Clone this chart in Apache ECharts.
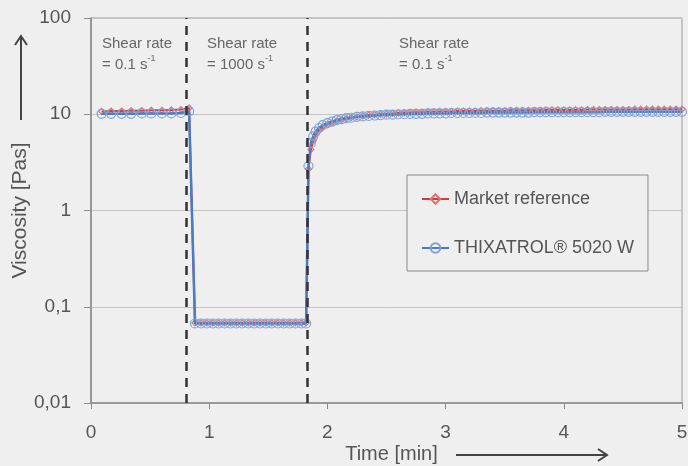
<!DOCTYPE html>
<html>
<head>
<meta charset="utf-8">
<script src="https://cdn.jsdelivr.net/npm/echarts@6.0.0/dist/echarts.min.js"></script>
<style>
  html, body { margin: 0; padding: 0; background: #eeefee; }
  #chart { width: 688px; height: 466px; }
</style>
</head>
<body>
<div id="chart"></div>
<script>
// time [min] per shear step
var tStep1 = [0.09, 0.17, 0.26, 0.34, 0.43, 0.51, 0.60, 0.68, 0.76, 0.83];
var tStep2 = [0.88, 0.93, 0.98, 1.03, 1.08, 1.13, 1.18, 1.23, 1.28, 1.33,
              1.38, 1.43, 1.48, 1.53, 1.58, 1.63, 1.68, 1.73, 1.78, 1.82];
var tStep3 = [1.84, 1.86, 1.88, 1.90, 1.93, 1.96, 2.00, 2.04, 2.08, 2.12,
              2.16, 2.20, 2.25, 2.30, 2.35, 2.40, 2.45, 2.50, 2.55, 2.60,
              2.65, 2.70, 2.75, 2.80, 2.85, 2.90, 2.95, 3.00, 3.05, 3.10,
              3.15, 3.20, 3.25, 3.30, 3.35, 3.40, 3.45, 3.50, 3.55, 3.60,
              3.65, 3.70, 3.75, 3.80, 3.85, 3.90, 3.95, 4.00, 4.05, 4.10,
              4.15, 4.20, 4.25, 4.30, 4.35, 4.40, 4.45, 4.50, 4.55, 4.60,
              4.65, 4.70, 4.75, 4.80, 4.85, 4.90, 4.95, 5.00];

// viscosity [Pas], market reference
var refStep1 = [10.7, 10.8, 10.8, 10.9, 10.9, 11.0, 11.0, 11.1, 11.2, 11.6];
var refStep2 = [0.068, 0.068, 0.068, 0.068, 0.068, 0.068, 0.068, 0.068, 0.068, 0.068,
                0.068, 0.068, 0.068, 0.068, 0.068, 0.068, 0.068, 0.068, 0.068, 0.068];
var refStep3 = [2.7, 4.3, 5.3, 6.1, 6.8, 7.3, 7.8, 8.2, 8.5, 8.8,
                9.0, 9.2, 9.4, 9.6, 9.8, 9.9, 10.0, 10.1, 10.2, 10.3,
                10.4, 10.4, 10.5, 10.5, 10.6, 10.6, 10.7, 10.7, 10.7, 10.8,
                10.8, 10.8, 10.8, 10.9, 10.9, 10.9, 10.9, 10.9, 11.0, 11.0,
                11.0, 11.0, 11.0, 11.0, 11.1, 11.1, 11.1, 11.1, 11.1, 11.1,
                11.1, 11.2, 11.2, 11.2, 11.2, 11.2, 11.2, 11.2, 11.2, 11.3,
                11.3, 11.3, 11.3, 11.3, 11.3, 11.3, 11.3, 11.3];

// viscosity [Pas], THIXATROL 5020 W
var thxStep1 = [10.1, 10.1, 10.1, 10.1, 10.2, 10.2, 10.2, 10.2, 10.3, 10.7];
var thxStep2 = [0.067, 0.067, 0.067, 0.067, 0.067, 0.067, 0.067, 0.067, 0.067, 0.067,
                0.067, 0.067, 0.067, 0.067, 0.067, 0.067, 0.067, 0.067, 0.067, 0.067];
var thxStep3 = [2.9, 5.0, 5.9, 6.6, 7.2, 7.7, 8.1, 8.4, 8.7, 8.9,
                9.1, 9.2, 9.4, 9.5, 9.6, 9.7, 9.8, 9.9, 9.9, 10.0,
                10.0, 10.1, 10.1, 10.1, 10.2, 10.2, 10.2, 10.2, 10.3, 10.3,
                10.3, 10.3, 10.3, 10.3, 10.4, 10.4, 10.4, 10.4, 10.4, 10.4,
                10.4, 10.4, 10.5, 10.5, 10.5, 10.5, 10.5, 10.5, 10.5, 10.5,
                10.5, 10.5, 10.5, 10.5, 10.6, 10.6, 10.6, 10.6, 10.6, 10.6,
                10.6, 10.6, 10.6, 10.6, 10.6, 10.6, 10.6, 10.6];

var stepChanges = [0.81, 1.83];
var stepLabels = ['Shear rate\n= 0.1 s{sup|-1}', 'Shear rate\n= 1000 s{sup|-1}', 'Shear rate\n= 0.1 s{sup|-1}'];
var seriesNames = ['Market reference', 'THIXATROL\u00ae 5020 W'];

function pairs(t, v) {
    var out = [];
    for (var i = 0; i < t.length; i++) out.push([t[i], v[i]]);
    return out;
}
var times = tStep1.concat(tStep2, tStep3);
var refData = pairs(times, refStep1.concat(refStep2, refStep3));
var thxData = pairs(times, thxStep1.concat(thxStep2, thxStep3));

var font = 'Liberation Sans, Arial, sans-serif';
var chart = echarts.init(document.getElementById('chart'));

function noteText(left, txt) {
    return {
        type: 'text', left: left, top: 33, z: 10,
        style: {
            text: txt, font: '15px ' + font, fill: '#666', lineHeight: 21,
            rich: { sup: { fontSize: 9, verticalAlign: 'top', fill: '#666' } }
        }
    };
}

var option = {
    backgroundColor: '#eeefee',
    animation: false,
    textStyle: { fontFamily: font },
    grid: {
        left: 91, right: 6, top: 18, bottom: 63,
        containLabel: false,
        outerBoundsMode: 'none',
        show: true, borderColor: '#9a9a9a', borderWidth: 1
    },
    legend: {
        orient: 'vertical',
        left: 407, top: 175,
        padding: [14, 14, 13, 14],
        itemGap: 29,
        itemWidth: 27, itemHeight: 12,
        borderColor: '#8a8a8a', borderWidth: 1,
        backgroundColor: '#eeefee',
        textStyle: { fontSize: 18, color: '#555', lineHeight: 20, fontFamily: font },
        data: seriesNames
    },
    xAxis: {
        type: 'value',
        min: 0, max: 5, interval: 1,
        name: 'Time [min]',
        nameLocation: 'middle',
        nameGap: 41,
        nameMoveOverlap: false,
        nameTextStyle: { fontSize: 20, color: '#555', fontFamily: font, padding: [0, 0, 0, 10] },
        axisLine: { lineStyle: { color: '#8a8a8a', width: 1.5 } },
        axisTick: { show: true, length: 6, lineStyle: { color: '#8a8a8a' } },
        axisLabel: { fontSize: 19, color: '#555', margin: 20 },
        splitLine: { show: false }
    },
    yAxis: {
        type: 'log',
        logBase: 10,
        min: 0.01, max: 100,
        name: 'Viscosity [Pas]',
        nameLocation: 'middle',
        nameGap: 60,
        nameMoveOverlap: false,
        nameRotate: 90,
        nameTextStyle: { fontSize: 21, color: '#555', fontFamily: font },
        axisLine: { show: true, lineStyle: { color: '#8a8a8a', width: 1.5 } },
        axisTick: { show: true, length: 7, lineStyle: { color: '#8a8a8a' } },
        axisLabel: {
            fontSize: 19, color: '#555', margin: 20,
            formatter: function (v) { return String(+v.toPrecision(3)).replace('.', ','); }
        },
        splitLine: { show: true, lineStyle: { color: '#c4c4c4', width: 1 } },
        minorTick: { show: false }
    },
    series: [
        {
            name: seriesNames[0],
            type: 'line',
            data: refData,
            symbol: 'diamond',
            symbolSize: 6,
            showAllSymbol: true,
            lineStyle: { color: '#d23a3c', width: 2 },
            itemStyle: { color: 'rgba(0,0,0,0)', borderColor: '#e07474', borderWidth: 1.2 },
            z: 3,
            markLine: {
                silent: true,
                symbol: ['none', 'none'],
                label: { show: false },
                lineStyle: { color: '#333', width: 2.5, type: [9, 7] },
                data: stepChanges.map(function (x) { return { xAxis: x }; })
            }
        },
        {
            name: seriesNames[1],
            type: 'line',
            data: thxData,
            symbol: 'circle',
            symbolSize: 9,
            showAllSymbol: true,
            lineStyle: { color: '#4a7bc4', width: 2.5 },
            itemStyle: { color: 'rgba(0,0,0,0)', borderColor: '#7fa2d8', borderWidth: 1.2 },
            z: 4
        }
    ],
    graphic: [
        noteText(102, stepLabels[0]),
        noteText(207, stepLabels[1]),
        noteText(399, stepLabels[2]),
        // arrows next to the axis names
        { type: 'line', shape: { x1: 21, y1: 120, x2: 21, y2: 37 }, style: { stroke: '#444', lineWidth: 2 } },
        { type: 'polyline', shape: { points: [[15, 45], [21, 36], [27, 45]] }, style: { stroke: '#444', lineWidth: 2, fill: null } },
        { type: 'line', shape: { x1: 456, y1: 455, x2: 606, y2: 455 }, style: { stroke: '#444', lineWidth: 2 } },
        { type: 'polyline', shape: { points: [[598, 449], [607, 455], [598, 461]] }, style: { stroke: '#444', lineWidth: 2, fill: null } }
    ]
};

chart.setOption(option);
</script>
</body>
</html>
